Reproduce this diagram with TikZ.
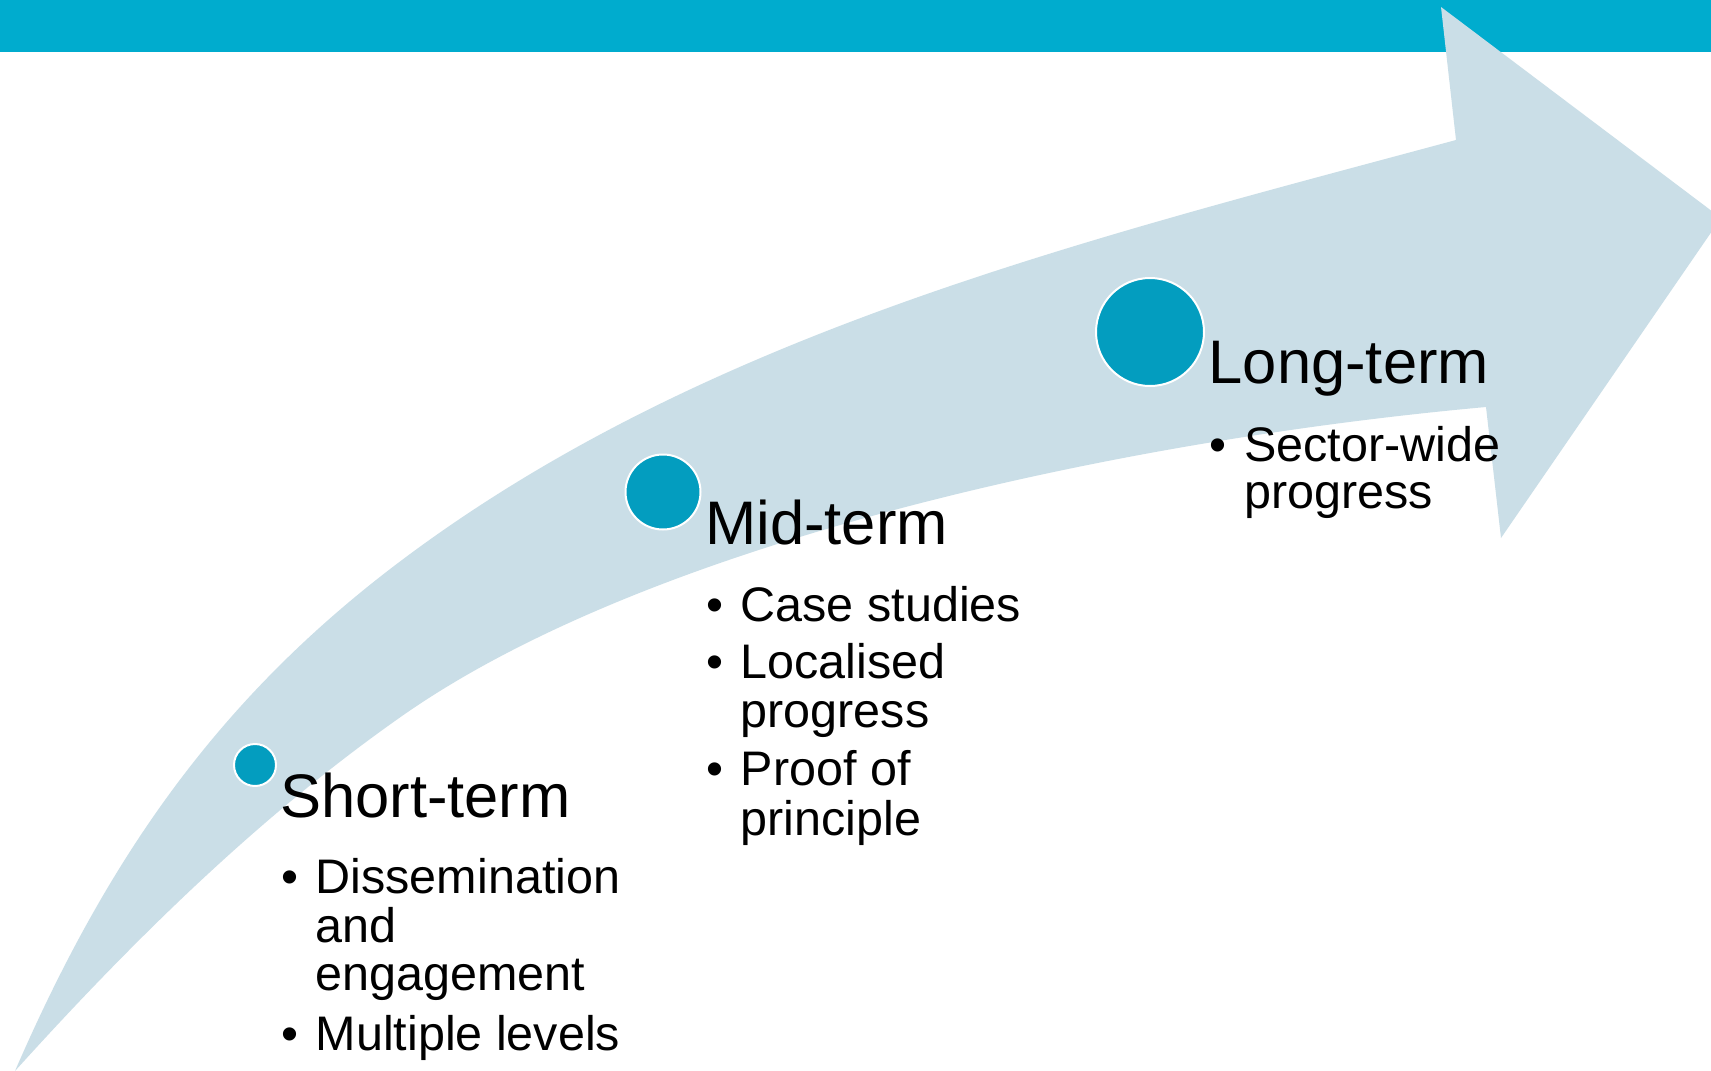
\documentclass[tikz,border=0pt]{standalone}
\usepackage{fontspec}
\setmainfont{Liberation Sans}
\definecolor{barblue}{HTML}{00ACCE}
\definecolor{bandblue}{HTML}{CADEE7}
\definecolor{dotblue}{HTML}{039DBF}
\begin{document}
\begin{tikzpicture}[x=1pt,y=-1pt,
  dot/.style={circle, fill=dotblue, draw=white, line width=2pt, inner sep=0pt},
  heading/.style={anchor=base west, inner sep=0pt, font=\fontsize{61.5}{62}\selectfont},
  itemtext/.style={anchor=base west, inner sep=0pt, font=\fontsize{48.5}{49}\selectfont},
  ]
\useasboundingbox (0,0) rectangle (1711,1071);
\clip (0,0) rectangle (1711,1071);
\fill[white] (0,0) rectangle (1711,1071);
% header bar
\fill[barblue] (0,0) rectangle (1711,52);
% curved arrow
\fill[bandblue]
  (15,1071) .. controls (107,859) and (218,698) .. (402,560)
            .. controls (706,332) and (1089,239) .. (1456,140)
  -- (1441,7) -- (1721,218) -- (1501,538) -- (1486,407)
  .. controls (1112.5,440.75) and (648,543.5) .. (402,716)
  .. controls (258.5,816.6) and (132,941.5) .. (15,1071)
  -- cycle;
% milestones
\node[dot, minimum size=42pt] (cs) at (255,765) {};
\node[dot, minimum size=75pt] (cm) at (663,492) {};
\node[dot, minimum size=108pt] (cl) at (1150,332) {};
% short-term
\node[heading] (ts) at (280,817) {Short-term};
\node[itemtext] (bs1) at (281,893) {•};
\node[itemtext] (s1a) at (315.5,893) {Dissemination};
\node[itemtext] (s1b) at (315.5,942) {and};
\node[itemtext] (s1c) at (315.5,990) {engagement};
\node[itemtext] (bs2) at (281,1050) {•};
\node[itemtext] (s2a) at (315.5,1050) {Multiple levels};
% mid-term
\node[heading] (tm) at (705,544) {Mid-term};
\node[itemtext] (bm1) at (706,621) {•};
\node[itemtext] (m1a) at (740.5,621) {Case studies};
\node[itemtext] (bm2) at (706,678) {•};
\node[itemtext] (m2a) at (740.5,678) {Localised};
\node[itemtext] (m2b) at (740.5,727) {progress};
\node[itemtext] (bm3) at (706,785) {•};
\node[itemtext] (m3a) at (740.5,785) {Proof of};
\node[itemtext] (m3b) at (740.5,835) {principle};
% long-term
\node[heading] (tl) at (1208.5,383) {Long-term};
\node[itemtext] (bl1) at (1209.5,461) {•};
\node[itemtext] (l1a) at (1244,461) {Sector-wide};
\node[itemtext] (l1b) at (1244,508) {progress};
\end{tikzpicture}
\end{document}
